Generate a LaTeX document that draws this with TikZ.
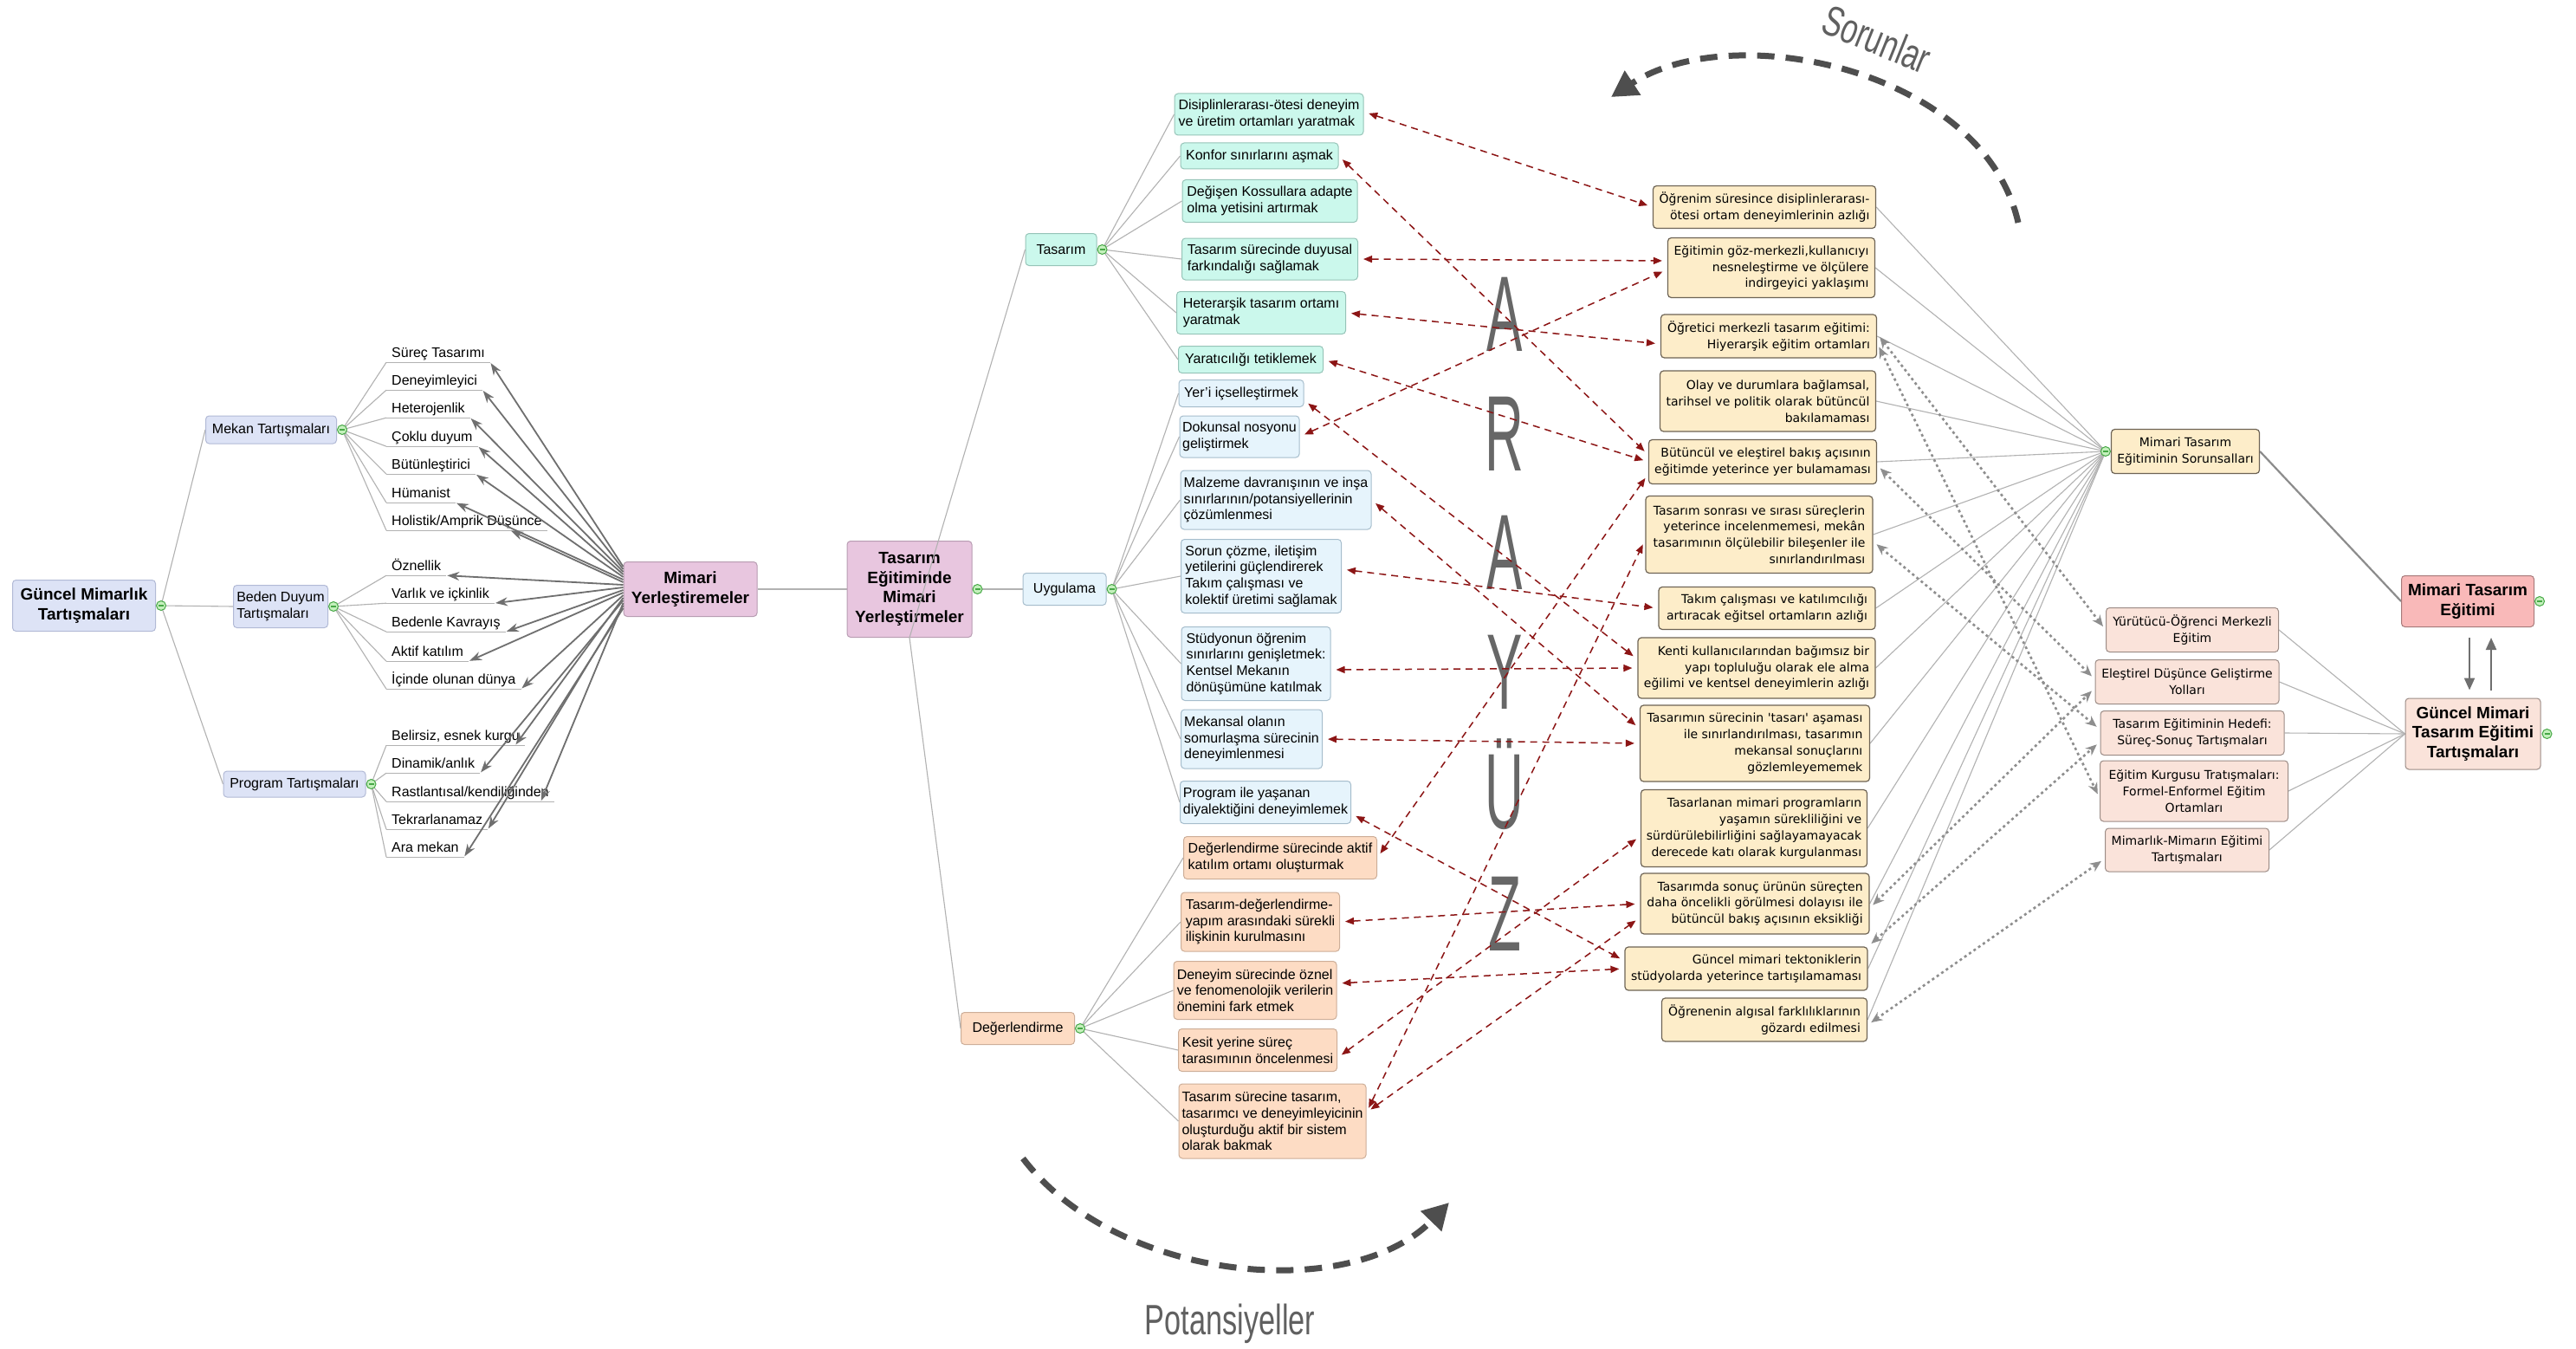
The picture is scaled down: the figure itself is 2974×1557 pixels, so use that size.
\documentclass[tikz,border=0pt]{standalone}
\usepackage{fontspec}
\setmainfont{Liberation Sans}
\newfontfamily\tahomalike{DejaVu Sans}
\usetikzlibrary{arrows.meta,backgrounds,calc}

\definecolor{cLav}{HTML}{DDE3F6}
\definecolor{cLavB}{HTML}{B2BAD6}
\definecolor{cLilac}{HTML}{E8C6DF}
\definecolor{cLilacB}{HTML}{B89CB2}
\definecolor{cMint}{HTML}{CBF8EC}
\definecolor{cMintB}{HTML}{96C4B8}
\definecolor{cIce}{HTML}{E6F4FC}
\definecolor{cIceB}{HTML}{A6BDCC}
\definecolor{cPeach}{HTML}{FDDCC4}
\definecolor{cPeachB}{HTML}{CDAE98}
\definecolor{cCream}{HTML}{FDEDC9}
\definecolor{cCreamB}{HTML}{6E6455}
\definecolor{cRose}{HTML}{F9B9B9}
\definecolor{cRoseB}{HTML}{A87B7B}
\definecolor{cBlush}{HTML}{FAE3DA}
\definecolor{cBlushB}{HTML}{9C8C86}
\definecolor{cGreen}{HTML}{C4F0BC}
\definecolor{cGreenB}{HTML}{46A846}
\definecolor{cLink}{HTML}{B2B2B2}
\definecolor{cRel}{HTML}{6F6F6F}
\definecolor{cRed}{HTML}{8C1515}
\definecolor{cDot}{HTML}{8E8E8E}
\definecolor{cArc}{HTML}{4E4E4E}
\definecolor{cLetter}{HTML}{676767}

\newcommand\txtreg{\fontsize{16}{18.6}\selectfont}
\newcommand\txtbold{\fontsize{19}{22.8}\selectfont\bfseries}
\newcommand\txtsans{\tahomalike\fontsize{14}{18.8}\selectfont}

\tikzset{
  box/.style={draw, rounded corners=4pt, line width=1pt, inner sep=0pt},
  sz/.style 2 args={minimum width=#1, minimum height=#2},
  lavbox/.style={box, fill=cLav, draw=cLavB},
  lilacbox/.style={box, fill=cLilac, draw=cLilacB},
  mintbox/.style={box, fill=cMint, draw=cMintB},
  icebox/.style={box, fill=cIce, draw=cIceB},
  peachbox/.style={box, fill=cPeach, draw=cPeachB},
  creambox/.style={box, fill=cCream, draw=cCreamB, line width=1.2pt},
  rosebox/.style={box, fill=cRose, draw=cRoseB},
  blushbox/.style={box, fill=cBlush, draw=cBlushB},
  fReg/.style={font=\txtreg, align=left},
  fBold/.style={font=\txtbold, align=center},
  fSansR/.style={font=\txtsans, align=right},
  fSansC/.style={font=\txtsans, align=center},
  leaf/.style={anchor=west, font=\txtreg, inner xsep=6pt, inner ysep=2pt, text height=12pt, text depth=4pt},
  uline/.style={draw=cLink, line width=1pt},
  link/.style={draw=cLink, line width=1.1pt},
  linkdark/.style={draw=cRel!80, line width=2.2pt},
  gc/.style={circle, draw=cGreenB, fill=cGreen, line width=1pt, minimum size=11pt, inner sep=0pt,
    path picture={\draw[cGreenB, line width=1.3pt] ([xshift=2.5pt]path picture bounding box.west) -- ([xshift=-2.5pt]path picture bounding box.east);}},
  relL/.style={draw=cRel, line width=1.8pt, -{Stealth[length=14pt,width=10pt]}, shorten >=1pt},
  relR/.style={draw=cRed, line width=1.5pt, dash pattern=on 8pt off 6pt,
    {Triangle[length=10pt,width=8pt]}-{Triangle[length=10pt,width=8pt]}, shorten <=6pt, shorten >=6pt},
  relG/.style={draw=cDot, line width=2.6pt, dash pattern=on 3pt off 3.5pt,
    {Stealth[length=13pt,width=11pt]}-{Stealth[length=13pt,width=11pt]}, shorten <=5pt, shorten >=5pt},
  vArrow/.style={draw=cRel, line width=2.2pt, -{Triangle[length=14pt,width=12pt]}},
  bigArc/.style={draw=cArc, line width=7pt, dash pattern=on 20pt off 13pt, -{Triangle[length=30pt,width=32pt]}},
  bigletter/.style={anchor=base, text=cLetter, font=\fontsize{124}{124}\selectfont, inner sep=0pt},
  arclabel/.style={text=cArc!90, font=\fontsize{49}{49}\selectfont, inner sep=0pt},
}

\begin{document}
\begin{tikzpicture}[x=1pt,y=-1pt]
\useasboundingbox (0,0) rectangle (2974,1557);
\begin{scope}[on background layer]
  \fill[white] (0,0) rectangle (2974,1557);
\end{scope}

% ---------- left mind map ----------
\node[lavbox,fBold,sz={165}{59}] (gmt) at (97,699) {Güncel Mimarlık\\Tartışmaları};
\node[lavbox,fReg,sz={151}{32}] (mekan) at (313,496) {Mekan Tartışmaları};
\node[lavbox,fReg,sz={109}{49}] (beden) at (324,700) {Beden Duyum\\Tartışmaları};
\node[lavbox,fReg,sz={164}{30}] (prog) at (340,905) {Program Tartışmaları};

\node[leaf] (l1) at (446,408) {Süreç Tasarımı};
\node[leaf] (l2) at (446,440) {Deneyimleyici};
\node[leaf] (l3) at (446,472) {Heterojenlik};
\node[leaf] (l4) at (446,505) {Çoklu duyum};
\node[leaf] (l5) at (446,537) {Bütünleştirici};
\node[leaf] (l6) at (446,570) {Hümanist};
\node[leaf] (l7) at (446,602) {Holistik/Amprik Düşünce};
\node[leaf] (l8) at (446,654) {Öznellik};
\node[leaf] (l9) at (446,686) {Varlık ve içkinlik};
\node[leaf] (l10) at (446,719) {Bedenle Kavrayış};
\node[leaf] (l11) at (446,753) {Aktif katılım};
\node[leaf] (l12) at (446,785) {İçinde olunan dünya};
\node[leaf] (l13) at (446,850) {Belirsiz, esnek kurgu};
\node[leaf] (l14) at (446,882) {Dinamik/anlık};
\node[leaf] (l15) at (446,915) {Rastlantısal/kendiliğinden};
\node[leaf] (l16) at (446,947) {Tekrarlanamaz};
\node[leaf] (l17) at (446,979) {Ara mekan};

\node[lilacbox,fBold,sz={154}{63}] (mimy) at (797,680) {Mimari\\Yerleştiremeler};

% ---------- centre ----------
\node[lilacbox,fBold,sz={144}{111}] (temy) at (1050,680) {Tasarım\\Eğitiminde\\Mimari\\Yerleştirmeler};
\node[mintbox,fReg,sz={82}{37}] (tasarim) at (1225,288) {Tasarım};
\node[icebox,fReg,sz={96}{37}] (uyg) at (1229,680) {Uygulama};
\node[peachbox,fReg,sz={131}{37}] (deg) at (1175,1187) {Değerlendirme};

\node[mintbox,fReg,sz={218}{48}] (t1) at (1465,132) {Disiplinlerarası-ötesi deneyim\\ve üretim ortamları yaratmak};
\node[mintbox,fReg,sz={182}{30}] (t2) at (1454,180) {Konfor sınırlarını aşmak};
\node[mintbox,fReg,sz={202}{49}] (t3) at (1466,232) {Değişen Kossullara adapte\\olma yetisini artırmak};
\node[mintbox,fReg,sz={203}{48}] (t4) at (1466,299) {Tasarım sürecinde duyusal\\farkındalığı sağlamak};
\node[mintbox,fReg,sz={195}{49}] (t5) at (1456,361) {Heterarşik tasarım ortamı\\yaratmak};
\node[mintbox,fReg,sz={167}{31}] (t6) at (1444,415) {Yaratıcılığı tetiklemek};

\node[icebox,fReg,sz={144}{31}] (u1) at (1433,454) {Yer'i içselleştirmek};
\node[icebox,fReg,sz={138}{48}] (u2) at (1431,504) {Dokunsal nosyonu\\geliştirmek};
\node[icebox,fReg,sz={220}{68}] (u3) at (1473,577) {Malzeme davranışının ve inşa\\sınırlarının/potansiyellerinin\\çözümlenmesi};
\node[icebox,fReg,sz={185}{85}] (u4) at (1456,665) {Sorun çözme, iletişim\\yetilerini güçlendirerek\\Takım çalışması ve\\kolektif üretimi sağlamak};
\node[icebox,fReg,sz={172}{85}] (u5) at (1450,766) {Stüdyonun öğrenim\\sınırlarını genişletmek:\\Kentsel Mekanın\\dönüşümüne katılmak};
\node[icebox,fReg,sz={163}{68}] (u6) at (1445,853) {Mekansal olanın\\somurlaşma sürecinin\\deneyimlenmesi};
\node[icebox,fReg,sz={197}{49}] (u7) at (1461,926) {Program ile yaşanan\\diyalektiğini deneyimlemek};

\node[peachbox,fReg,sz={223}{49}] (d1) at (1478,990) {Değerlendirme sürecinde aktif\\katılım ortamı oluşturmak};
\node[peachbox,fReg,sz={183}{68}] (d2) at (1455,1064) {Tasarım-değerlendirme-\\yapım arasındaki sürekli\\ilişkinin kurulmasını};
\node[peachbox,fReg,sz={188}{67}] (d3) at (1449,1143) {Deneyim sürecinde öznel\\ve fenomenolojik verilerin\\önemini fark etmek};
\node[peachbox,fReg,sz={183}{49}] (d4) at (1452,1212) {Kesit yerine süreç\\tarasımının öncelenmesi};
\node[peachbox,fReg,sz={216}{86}] (d5) at (1469,1294) {Tasarım sürecine tasarım,\\tasarımcı ve deneyimleyicinin\\oluşturduğu aktif bir sistem\\olarak bakmak};

% ---------- problems column ----------
\node[creambox,fSansR,sz={257}{49}] (p1) at (2037,239) {Öğrenim süresince disiplinlerarası-\\ötesi ortam deneyimlerinin azlığı};
\node[creambox,fSansR,sz={239}{69}] (p2) at (2045,309) {Eğitimin göz-merkezli,kullanıcıyı\\nesneleştirme ve ölçülere\\indirgeyici yaklaşımı};
\node[creambox,fSansR,sz={249}{50}] (p3) at (2042,388) {Öğretici merkezli tasarım eğitimi:\\Hiyerarşik eğitim ortamları};
\node[creambox,fSansR,sz={249}{70}] (p4) at (2041,463) {Olay ve durumlara bağlamsal,\\tarihsel ve politik olarak bütüncül\\bakılamaması};
\node[creambox,fSansR,sz={263}{51}] (p5) at (2035,533) {Bütüncül ve eleştirel bakış açısının\\eğitimde yeterince yer bulamaması};
\node[creambox,fSansR,sz={262}{89}] (p6) at (2031,617) {Tasarım sonrası ve sırası süreçlerin\\yeterince incelenmemesi, mekân\\tasarımının ölçülebilir bileşenler ile\\sınırlandırılması};
\node[creambox,fSansR,sz={250}{49}] (p7) at (2040,702) {Takım çalışması ve katılımcılığı\\artıracak eğitsel ortamların azlığı};
\node[creambox,fSansR,sz={274}{70}] (p8) at (2028,771) {Kenti kullanıcılarından bağımsız bir\\yapı topluluğu olarak ele alma\\eğilimi ve kentsel deneyimlerin azlığı};
\node[creambox,fSansR,sz={265}{88}] (p9) at (2026,858) {Tasarımın sürecinin \textquotesingle tasarı\textquotesingle{} aşaması\\ile sınırlandırılması, tasarımın\\mekansal sonuçlarını\\gözlemleyememek};
\node[creambox,fSansR,sz={261}{89}] (p10) at (2025,956) {Tasarlanan mimari programların\\yaşamın sürekliliğini ve\\sürdürülebilirliğini sağlayamayacak\\derecede katı olarak kurgulanması};
\node[creambox,fSansR,sz={264}{70}] (p11) at (2026,1043) {Tasarımda sonuç ürünün süreçten\\daha öncelikli görülmesi dolayısı ile\\bütüncül bakış açısının eksikliği};
\node[creambox,fSansR,sz={280}{50}] (p12) at (2016,1118) {Güncel mimari tektoniklerin\\stüdyolarda yeterince tartışılamaması};
\node[creambox,fSansR,sz={237}{50}] (p13) at (2037,1177) {Öğrenenin algısal farklılıklarının\\gözardı edilmesi};

% ---------- right side ----------
\node[creambox,fSansC,sz={171}{51}] (sor) at (2523,521) {Mimari Tasarım\\Eğitiminin Sorunsalları};
\node[rosebox,fBold,sz={153}{59}] (mte) at (2849,694) {Mimari Tasarım\\Eğitimi};
\node[blushbox,fBold,sz={156}{82}] (gmtet) at (2855,847) {Güncel Mimari\\Tasarım Eğitimi\\Tartışmaları};
\node[blushbox,fSansC,sz={199}{51}] (g1) at (2531,727) {Yürütücü-Öğrenci Merkezli\\Eğitim};
\node[blushbox,fSansC,sz={212}{51}] (g2) at (2525,787) {Eleştirel Düşünce Geliştirme\\Yolları};
\node[blushbox,fSansC,sz={212}{51}] (g3) at (2531,846) {Tasarım Eğitiminin Hedefi:\\Süreç-Sonuç Tartışmaları};
\node[blushbox,fSansC,sz={217}{70}] (g4) at (2533,913) {Eğitim Kurgusu Tratışmaları:\\Formel-Enformel Eğitim\\Ortamları};
\node[blushbox,fSansC,sz={189}{50}] (g5) at (2525,981) {Mimarlık-Mimarın Eğitimi\\Tartışmaları};

% collapse markers
\node[gc] (cgmt) at ([xshift=6pt]gmt.east) {};
\node[gc] (cmekan) at ([xshift=6pt]mekan.east) {};
\node[gc] (cbeden) at ([xshift=6pt]beden.east) {};
\node[gc] (cprog) at ([xshift=6pt]prog.east) {};
\node[gc] (ctemy) at ([xshift=6pt]temy.east) {};
\node[gc] (ctas) at ([xshift=6pt]tasarim.east) {};
\node[gc] (cuyg) at ([xshift=6pt]uyg.east) {};
\node[gc] (cdeg) at ([xshift=6pt]deg.east) {};
\node[gc] (csor) at ([xshift=-6pt]sor.west) {};
\node[gc] (cmte) at ([xshift=6pt]mte.east) {};
\node[gc] (cgmtet) at ([xshift=7pt]gmtet.east) {};

% branches drawn across the central box
\draw[link] (tasarim.west) -- (temy.south);
\draw[link] (deg.west) -- (temy.south);

% ---------- labels and arcs ----------
\node[arclabel, rotate=-22] (sorlbl) at (2167,45) {\scalebox{0.7}[1]{Sorunlar}};
\node[arclabel, anchor=base] (potlbl) at (1420,1540) {\scalebox{0.7}[1]{Potansiyeller}};
\coordinate (arcTs) at (2330,257);
\coordinate (arcTe) at (1860,112);
\coordinate (arcBs) at (1181,1337);
\coordinate (arcBe) at (1673,1388);
\draw[bigArc] (arcTs) .. controls (2290,80) and (2000,20) .. (arcTe);
\draw[bigArc] (arcBs) .. controls (1290,1480) and (1560,1505) .. (arcBe);

\begin{scope}[on background layer]
  % interface lettering
  \node[bigletter] (ar1) at (1737,405) {\scalebox{0.5}[1]{A}};
  \node[bigletter] (ar2) at (1737,543) {\scalebox{0.5}[1]{R}};
  \node[bigletter] (ar3) at (1737,680) {\scalebox{0.5}[1]{A}};
  \node[bigletter] (ar4) at (1737,818) {\scalebox{0.5}[1]{Y}};
  \node[bigletter] (ar5) at (1737,956) {\scalebox{0.5}[1]{Ü}};
  \node[bigletter] (ar6) at (1737,1097) {\scalebox{0.5}[1]{Z}};

  % left tree
  \draw[link] (cgmt.center) -- (mekan.west);
  \draw[link] (cgmt.center) -- (beden.west);
  \draw[link] (cgmt.center) -- (prog.west);
  \foreach \n in {l1,l2,l3,l4,l5,l6,l7} \draw[link] (cmekan.center) -- (\n.south west);
  \foreach \n in {l8,l9,l10,l11,l12} \draw[link] (cbeden.center) -- (\n.south west);
  \foreach \n in {l13,l14,l15,l16,l17} \draw[link] (cprog.center) -- (\n.south west);
  \foreach \n in {l1,l2,l3,l4,l5,l6,l7,l8,l9,l10,l11,l12,l13,l14,l15,l16,l17}
    \draw[uline] (\n.south west) -- (\n.south east);

  % centre tree
  \draw[link] (mimy.east) -- (temy.west);
  \draw[link] (ctemy.center) -- (uyg.west);
  \foreach \n in {t1,t2,t3,t4,t5,t6} \draw[link] (ctas.center) -- (\n.west);
  \foreach \n in {u1,u2,u3,u4,u5,u6,u7} \draw[link] (cuyg.center) -- (\n.west);
  \foreach \n in {d1,d2,d3,d4,d5} \draw[link] (cdeg.center) -- (\n.west);

  % right tree
  \foreach \n in {p1,p2,p3,p4,p5,p6,p7,p8,p9,p10,p11,p12,p13} \draw[link] (csor.center) -- (\n.east);
  \foreach \n in {g1,g2,g3,g4,g5} \draw[link] (gmtet.west) -- (\n.east);
  \draw[linkdark] (sor.east) -- (mte.west);
\end{scope}

% ---------- relations from the installations node ----------
\draw[relL] ([yshift=26pt]mimy.west) -- (l1.south east);
\draw[relL] ([yshift=23pt]mimy.west) -- (l2.south east);
\draw[relL] ([yshift=20pt]mimy.west) -- (l3.south east);
\draw[relL] ([yshift=17pt]mimy.west) -- (l4.south east);
\draw[relL] ([yshift=14pt]mimy.west) -- (l5.south east);
\draw[relL] ([yshift=11pt]mimy.west) -- (l6.south east);
\draw[relL] ([yshift=8pt]mimy.west) -- ($(l7.south west)!0.77!(l7.south east)$);
\draw[relL] ([yshift=5pt]mimy.west) -- (l8.south east);
\draw[relL] ([yshift=2pt]mimy.west) -- (l9.south east);
\draw[relL] ([yshift=-1pt]mimy.west) -- (l10.south east);
\draw[relL] ([yshift=-4pt]mimy.west) -- (l11.south east);
\draw[relL] ([yshift=-7pt]mimy.west) -- (l12.south east);
\draw[relL] ([yshift=-10pt]mimy.west) -- ($(l13.south west)!0.93!(l13.south east)$);
\draw[relL] ([yshift=-13pt]mimy.west) -- (l14.south east);
\draw[relL] ([yshift=-16pt]mimy.west) -- ($(l15.south west)!0.92!(l15.south east)$);
\draw[relL] ([yshift=-19pt]mimy.west) -- (l16.south east);
\draw[relL] ([yshift=-22pt]mimy.west) -- (l17.south east);

% ---------- potentials <-> problems ----------
\draw[relR] ([yshift=3pt]t1.east) -- (p1.west);
\draw[relR] (t2.east) -- ([yshift=8pt]p5.west);
\draw[relR] (t4.east) -- ([yshift=8pt]p2.west);
\draw[relR] (t5.east) -- ([yshift=-9pt]p3.west);
\draw[relR] (t6.east) -- (p5.west);
\draw[relR] ([yshift=-8pt]u1.east) -- ([yshift=10pt]p8.west);
\draw[relR] (u2.east) -- ([yshift=-2pt]p2.west);
\draw[relR] (u3.east) -- ([yshift=17pt]p9.west);
\draw[relR] ([yshift=8pt]u4.east) -- (p7.west);
\draw[relR] ([yshift=-7pt]u5.east) -- (p8.west);
\draw[relR] (u6.east) -- (p9.west);
\draw[relR] ([yshift=-13pt]u7.east) -- ([yshift=9pt]p12.west);
\draw[relR] (d1.east) -- ([yshift=-14pt]p5.west);
\draw[relR] (d2.east) -- (p11.west);
\draw[relR] ([yshift=8pt]d3.east) -- (p12.west);
\draw[relR] ([yshift=-9pt]d4.east) -- ([yshift=-9pt]p10.west);
\draw[relR] ([yshift=10pt]d5.east) -- ([yshift=-6pt]p6.west);
\draw[relR] ([yshift=10pt]d5.east) -- ([yshift=-16pt]p11.west);

% ---------- problems <-> current debates ----------
\draw[relG] ([yshift=3pt]p3.east) -- (g1.west);
\draw[relG] ([yshift=-8pt]p3.east) -- ([yshift=-8pt]g4.west);
\draw[relG] ([yshift=-4pt]p5.east) -- ([yshift=3pt]g2.west);
\draw[relG] ([yshift=-8pt]p6.east) -- ([yshift=4pt]g3.west);
\draw[relG] ([yshift=-5pt]p11.east) -- ([yshift=-7pt]g2.west);
\draw[relG] (p12.north east) -- ([yshift=-10pt]g3.west);
\draw[relG] ([yshift=-6pt]p13.east) -- ([yshift=-10pt]g5.west);

% ---------- education <-> debates ----------
\coordinate (dnA) at ([xshift=2pt]mte.south);
\coordinate (dnB) at (dnA |- gmtet.north);
\coordinate (upA) at ([xshift=27pt]mte.south);
\coordinate (upB) at (upA |- gmtet.north);
\draw[vArrow, shorten <=12pt, shorten >=9pt] (dnA) -- (dnB);
\draw[vArrow, shorten <=9pt, shorten >=12pt] (upB) -- (upA);
\end{tikzpicture}
\end{document}
